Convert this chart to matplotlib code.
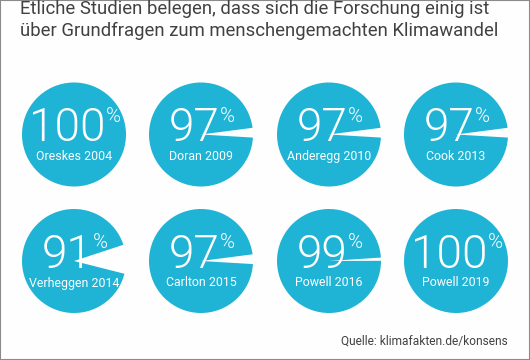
import matplotlib
matplotlib.use("Agg")
import matplotlib.pyplot as plt
from matplotlib.patches import Rectangle
from matplotlib import font_manager as fm

title = "Etliche Studien belegen, dass sich die Forschung einig ist\nüber Grundfragen zum menschengemachten Klimawandel"
studies = ["Oreskes 2004", "Doran 2009", "Anderegg 2010", "Cook 2013",
           "Verheggen 2014", "Carlton 2015", "Powell 2016", "Powell 2019"]
consensus = [100, 97, 97, 97, 91, 97, 99, 100]
source = "Quelle: klimafakten.de/konsens"


def roboto(style, size):
    for f in fm.findSystemFonts():
        if f.endswith('Roboto-%s.ttf' % style):
            return fm.FontProperties(fname=f, size=size)
    return fm.FontProperties(family=['Roboto', 'DejaVu Sans'], size=size)


W, H = 530, 360
fig = plt.figure(figsize=(W / 100, H / 100), dpi=100)
fig.patch.set_facecolor('#fdfefd')

blue = '#1fb3d5'
R = 52.0
S = 112.0
L = S / (2 * R)
centers_x = [74, 201, 329, 456]
centers_y = [134.5, 261]

fp_num = roboto('Light', 33)
fp_pct = roboto('Light', 14.5)
fp_lab = roboto('Regular', 8.9)
fp_title = roboto('Regular', 13.3)
fp_src = roboto('Regular', 8.6)

renderer = fig.canvas.get_renderer()

for i, (name, val) in enumerate(zip(studies, consensus)):
    cx = centers_x[i % 4]
    cy = centers_y[i // 4]
    ax = fig.add_axes([(cx - S / 2) / W, 1 - (cy + S / 2) / H, S / W, S / H])
    gap_deg = 360 * (100 - val) / 100
    ax.pie([val, 100 - val], colors=[blue, 'none'], startangle=2 + gap_deg / 2,
           counterclock=True, radius=1, wedgeprops=dict(linewidth=0))
    ax.set_xlim(-L, L)
    ax.set_ylim(-L, L)
    ax.set_aspect('equal')
    ax.axis('off')

    num = ax.text(0, -6.5 / R, str(val), color='white', fontproperties=fp_num,
                  ha='left', va='baseline')
    pct = ax.text(0, 12.5 / R, '%', color='white', fontproperties=fp_pct,
                  ha='left', va='baseline')
    wn = num.get_window_extent(renderer).width
    wp = pct.get_window_extent(renderer).width
    g = 0.0
    total = wn + g + wp
    x0 = -total / 2 + 1
    num.set_x(x0 / R)
    pct.set_x((x0 + wn + g) / R)

    ax.text(0, -25.5 / R, name, color='white', fontproperties=fp_lab,
            ha='center', va='baseline')

fig.text(20.5 / W, 1 - 36 / H, title, color='#404040', fontproperties=fp_title,
         ha='left', va='baseline', linespacing=1.3)
fig.text(508 / W, 1 - 345 / H, source, color='#404040', fontproperties=fp_src,
         ha='right', va='baseline')

fig.add_artist(Rectangle((0, 0), 1, 1, transform=fig.transFigure, fill=False,
                         edgecolor='#8a8a8a', linewidth=1.5))

fig.savefig('out.png', dpi=100, facecolor=fig.get_facecolor())
